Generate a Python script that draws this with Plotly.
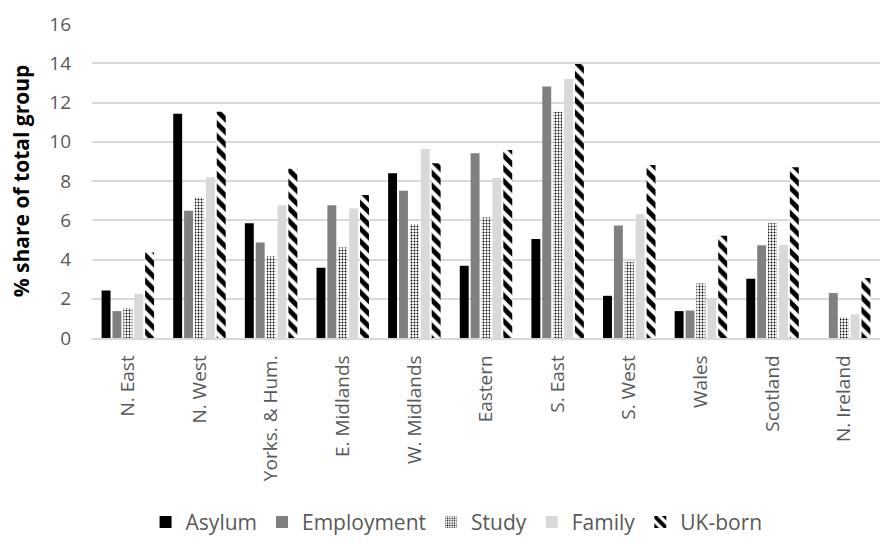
import plotly.graph_objects as go

regions = ["N. East", "N. West", "Yorks. & Hum.", "E. Midlands", "W. Midlands",
           "Eastern", "S. East", "S. West", "Wales", "Scotland", "N. Ireland"]

asylum = [2.42, 11.43, 5.85, 3.58, 8.40, 3.68, 5.04, 2.15, 1.37, 3.02, 0.0]
employment = [1.37, 6.48, 4.87, 6.77, 7.50, 9.41, 12.81, 5.73, 1.40, 4.73, 2.29]
study = [1.53, 7.16, 4.15, 4.61, 5.80, 6.14, 11.53, 3.87, 2.78, 5.85, 1.05]
family = [2.25, 8.19, 6.77, 6.60, 9.63, 8.17, 13.20, 6.31, 2.02, 4.75, 1.20]
uk_born = [4.36, 11.53, 8.62, 7.29, 8.90, 9.58, 13.96, 8.82, 5.21, 8.70, 3.05]

font_family = "Open Sans, Liberation Sans, sans-serif"
tick_grey = "#595959"

fig = go.Figure()

fig.add_trace(go.Bar(name="Asylum", x=regions, y=asylum,
                     marker=dict(color="#000000", line=dict(width=0))))
fig.add_trace(go.Bar(name="Employment", x=regions, y=employment,
                     marker=dict(color="#808080", line=dict(width=0))))
fig.add_trace(go.Bar(name="Study", x=regions, y=study,
                     marker=dict(color="#ffffff", line=dict(width=0),
                                 pattern=dict(shape=".", fgcolor="#000000",
                                              bgcolor="#ffffff", size=3,
                                              solidity=0.3, fillmode="replace"))))
fig.add_trace(go.Bar(name="Family", x=regions, y=family,
                     marker=dict(color="#d9d9d9", line=dict(width=0))))
fig.add_trace(go.Bar(name="UK-born", x=regions, y=uk_born,
                     marker=dict(color="#ffffff", line=dict(width=0),
                                 pattern=dict(shape="\\", fgcolor="#000000",
                                              bgcolor="#ffffff", size=9,
                                              solidity=0.55, fillmode="replace"))))

fig.update_layout(
    width=890, height=544,
    margin=dict(l=92, r=10, t=24, b=206, autoexpand=False),
    paper_bgcolor="#ffffff", plot_bgcolor="#ffffff",
    barmode="group", bargap=0.24, bargroupgap=0.18,
    font=dict(family=font_family, color=tick_grey, size=19),
    legend=dict(orientation="h", xref="container", x=0.513, xanchor="center",
                yref="container", y=0.04, yanchor="middle",
                font=dict(size=21, color=tick_grey), itemwidth=30,
                traceorder="normal"),
    yaxis=dict(range=[0, 16], dtick=2, showgrid=True, gridcolor="#d9d9d9", gridwidth=1.5,
               zeroline=False, showline=False, ticks="", ticklabelstandoff=20,
               automargin=False,
               tickfont=dict(size=19, color=tick_grey),
               title=dict(text="<b>% share of total group</b>",
                          font=dict(size=21, color="#000000"), standoff=13)),
    xaxis=dict(showline=True, linecolor="#d9d9d9", linewidth=1.5, ticks="",
               tickangle=-90, ticklabelstandoff=8, automargin=False,
               tickfont=dict(size=19, color=tick_grey)),
)

fig.write_html("out.html")
